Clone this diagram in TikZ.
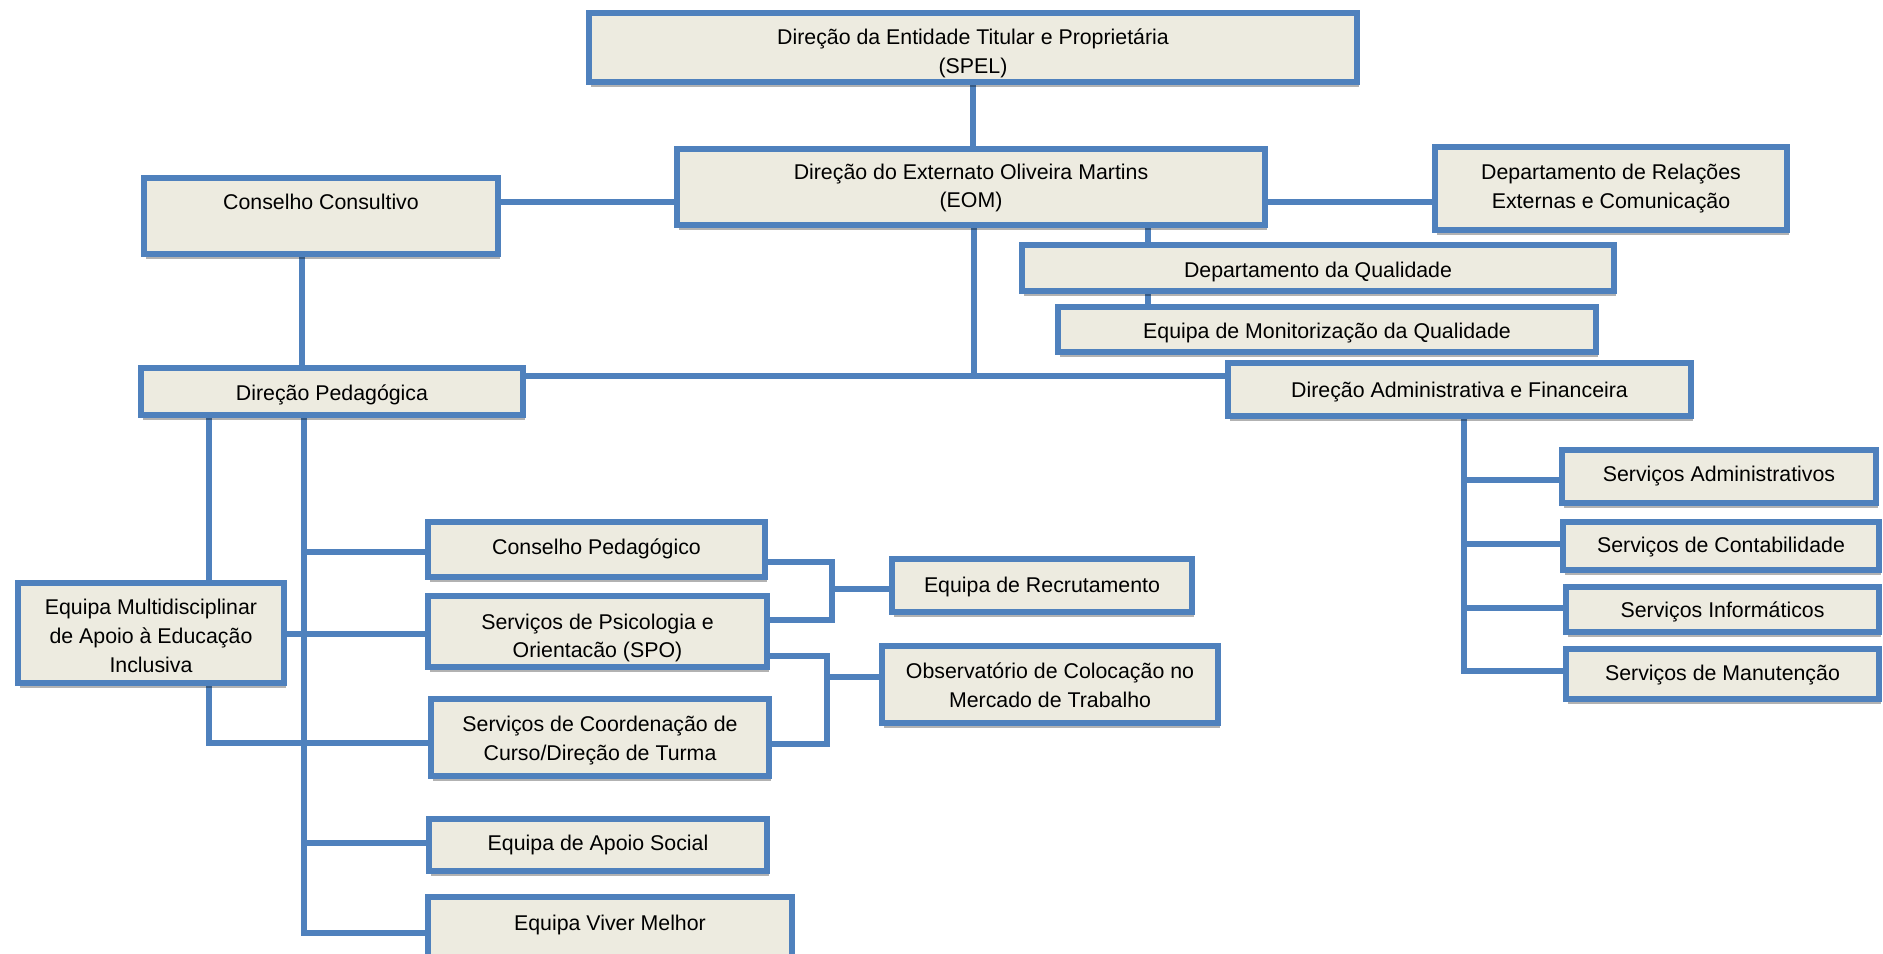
\documentclass[tikz,border=0pt]{standalone}
\usepackage{fontspec}
\setmainfont{Liberation Sans}
\usetikzlibrary{shadows,backgrounds,calc}
\definecolor{bxfill}{RGB}{237,235,224}
\definecolor{bxline}{RGB}{79,129,189}
\tikzset{
  boxst/.style={draw=bxline, line width=3.8pt, fill=bxfill, inner sep=0pt,
    drop shadow={shadow xshift=1.2pt, shadow yshift=-3.5pt, fill=black, opacity=0.3}},
  txtst/.style={align=center, inner sep=0pt, font=\fontsize{16}{21.6}\selectfont},
  conn/.style={draw=bxline, line width=3.8pt, line join=miter}
}
\newcommand\bx[7]{\node[boxst, minimum width={(#4-#2)*0.75pt}, minimum height={(#5-#3)*0.75pt}] (#1) at ({(#2+#4)/2},{(#3+#5)/2}) {};
\node[txtst] (#1t) at ($(#1.center)+(0,#6)$) {#7};}
\begin{document}
\begin{tikzpicture}[x=0.75pt,y=-0.75pt]
\useasboundingbox (0,0) rectangle (1883,953);
\bx{spel}{589}{13}{1357}{82}{5.5}{Direção da Entidade Titular e Proprietária\\(SPEL)}
\bx{eom}{677}{149}{1265}{225}{1}{Direção do Externato Oliveira Martins\\(EOM)}
\bx{cc}{144}{178}{498}{254}{0}{Conselho Consultivo\\\mbox{}}
\bx{rel}{1435}{147}{1787}{230}{0}{Departamento de Relações\\Externas e Comunicação}
\bx{dq}{1022}{245}{1614}{291}{3.5}{Departamento da Qualidade}
\bx{emq}{1058}{307}{1596}{352}{3.5}{Equipa de Monitorização da Qualidade}
\bx{dp}{141}{368}{523}{415}{3.5}{Direção Pedagógica}
\bx{daf}{1228}{363}{1691}{416}{2.5}{Direção Administrativa e Financeira}
\bx{sa}{1562}{450}{1876}{503}{0}{Serviços Administrativos}
\bx{sc}{1563}{522}{1879}{570}{1}{Serviços de Contabilidade}
\bx{si}{1566}{587}{1879}{632}{2.5}{Serviços Informáticos}
\bx{sm}{1566}{649}{1879}{699}{1}{Serviços de Manutenção}
\bx{cp}{428}{522}{765}{577}{-1}{Conselho Pedagógico}
\bx{spo}{428}{596}{767}{667}{6.5}{Serviços de Psicologia e\\Orientacão (SPO)}
\bx{scd}{431}{699}{769}{776}{3}{Serviços de Coordenação de\\Curso/Direção de Turma}
\bx{er}{892}{559}{1192}{612}{1}{Equipa de Recrutamento}
\bx{obs}{882}{646}{1218}{723}{0.5}{Observatório de Colocação no\\Mercado de Trabalho}
\bx{emu}{18}{583}{284}{683}{3}{Equipa Multidisciplinar\\de Apoio à Educação\\Inclusiva}
\bx{eas}{429}{819}{767}{871}{0}{Equipa de Apoio Social}
\bx{evm}{428}{897}{792}{957}{-2}{Equipa Viver Melhor}
\begin{pgfonlayer}{background}
\coordinate (yTop) at (0,202);
\draw[conn] (cc.east |- yTop) -- (eom.west |- yTop);
\draw[conn] (eom.east |- yTop) -- (rel.west |- yTop);
\draw[conn] (spel.south) -- (spel.south |- eom.north);
\coordinate (xQ) at (1148,0);
\draw[conn] (eom.south -| xQ) -- (dq.north -| xQ);
\draw[conn] (dq.south -| xQ) -- (emq.north -| xQ);
\coordinate (hub) at (974,376);
\draw[conn] (eom.south -| hub) -- (hub);
\draw[conn] (dp.east |- hub) -- (daf.west |- hub);
\coordinate (xCC) at (302,0);
\draw[conn] (cc.south -| xCC) -- (dp.north -| xCC);
\coordinate (xL) at (209,743);
\draw[conn] (dp.south -| xL) -- (emu.north -| xL);
\draw[conn] (emu.south -| xL) -- (xL) -- (scd.west |- xL);
\coordinate (xM) at (304,933);
\draw[conn] (dp.south -| xM) -- (xM) -- (evm.west |- xM);
\coordinate (yCP) at (304,552);
\draw[conn] (yCP) -- (cp.west |- yCP);
\coordinate (yEAS) at (304,843);
\draw[conn] (yEAS) -- (eas.west |- yEAS);
\coordinate (yMU) at (0,634);
\draw[conn] (emu.east |- yMU) -- (spo.west |- yMU);
\coordinate (b1a) at (832,562);
\coordinate (b1b) at (832,620);
\coordinate (b1m) at (832,589);
\draw[conn] (cp.east |- b1a) -- (b1a) -- (b1b) -- (spo.east |- b1b);
\draw[conn] (b1m) -- (er.west |- b1m);
\coordinate (b2a) at (827,656);
\coordinate (b2b) at (827,744);
\coordinate (b2m) at (827,677);
\draw[conn] (spo.east |- b2a) -- (b2a) -- (b2b) -- (scd.east |- b2b);
\draw[conn] (b2m) -- (obs.west |- b2m);
\coordinate (xR) at (1464,671);
\draw[conn] (daf.south -| xR) -- (xR) -- (sm.west |- xR);
\coordinate (r1) at (1464,480);
\coordinate (r2) at (1464,544);
\coordinate (r3) at (1464,608);
\draw[conn] (r1) -- (sa.west |- r1);
\draw[conn] (r2) -- (sc.west |- r2);
\draw[conn] (r3) -- (si.west |- r3);
\end{pgfonlayer}
\end{tikzpicture}
\end{document}
